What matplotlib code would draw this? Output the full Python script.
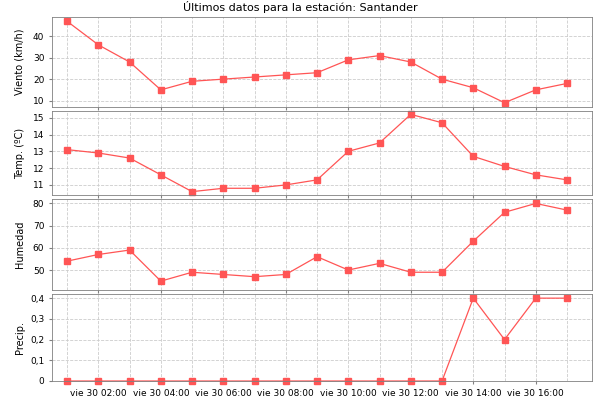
import matplotlib
matplotlib.use("Agg")
import matplotlib.pyplot as plt
import matplotlib.dates as mdates
from matplotlib.ticker import FuncFormatter, MultipleLocator
import pandas as pd

times = pd.date_range("2024-08-30 01:00", periods=17, freq="h")
viento = [47, 36, 28, 15, 19, 20, 21, 22, 23, 29, 31, 28, 20, 16, 9, 15, 18]
temp = [13.1, 12.9, 12.6, 11.6, 10.6, 10.8, 10.8, 11.0, 11.3, 13.0, 13.5, 15.2, 14.7, 12.7, 12.1, 11.6, 11.3]
humedad = [54, 57, 59, 45, 49, 48, 47, 48, 56, 50, 53, 49, 49, 63, 76, 80, 77]
precip = [0]*13 + [0.4, 0.2, 0.4, 0.4]

series = [
    ("Viento (km/h)", viento, (7, 49), 10),
    ("Temp. (ºC)", temp, (10.4, 15.4), 1),
    ("Humedad", humedad, (41, 82), 10),
    ("Precip.", precip, (0, 0.42), 0.1),
]

fig = plt.figure(figsize=(6, 4), dpi=100)
fig.text(0.5, 0.998, "Últimos datos para la estación: Santander", ha="center", va="top", fontsize=8)
tops = [17, 111, 199, 294]
bots = [107, 195, 290, 381]
axes = []
for (label, vals, ylim, step), t, b in zip(series, tops, bots):
    ax = fig.add_axes([52/600, 1 - b/400, 540/600, (b - t)/400])
    ax.plot(times, vals, color="#ff5555", lw=0.9, marker="s", ms=4.5, mec="#ff5555", mfc="#ff5555", clip_on=False)
    ax.set_ylim(*ylim)
    ax.yaxis.set_major_locator(MultipleLocator(step))
    ax.set_ylabel(label, fontsize=7)
    ax.tick_params(labelsize=6.5, length=2, color="gray")
    ax.grid(True, color="#cccccc", ls="--", lw=0.6)
    for s in ax.spines.values():
        s.set_color("gray")
        s.set_linewidth(0.6)
    ax.set_xlim(pd.Timestamp("2024-08-30 00:31"), pd.Timestamp("2024-08-30 17:48"))
    ax.xaxis.set_major_locator(mdates.HourLocator(byhour=range(2, 24, 2)))
    ax.xaxis.set_minor_locator(mdates.HourLocator())
    ax.xaxis.set_major_formatter(mdates.DateFormatter("vie 30 %H:%M"))
    ax.tick_params(axis="x", which="minor", length=0)
    ax.xaxis.grid(True, which="minor", color="#cccccc", ls="--", lw=0.6)
    axes.append(ax)

axes[-1].yaxis.set_major_formatter(FuncFormatter(lambda v, p: ("%g" % round(v, 2)).replace(".", ",")))
for ax in axes[:-1]:
    ax.tick_params(axis="x", labelbottom=False)
for ax in axes:
    ax.yaxis.set_label_coords(-0.05, 0.5)

fig.savefig("out.png")
